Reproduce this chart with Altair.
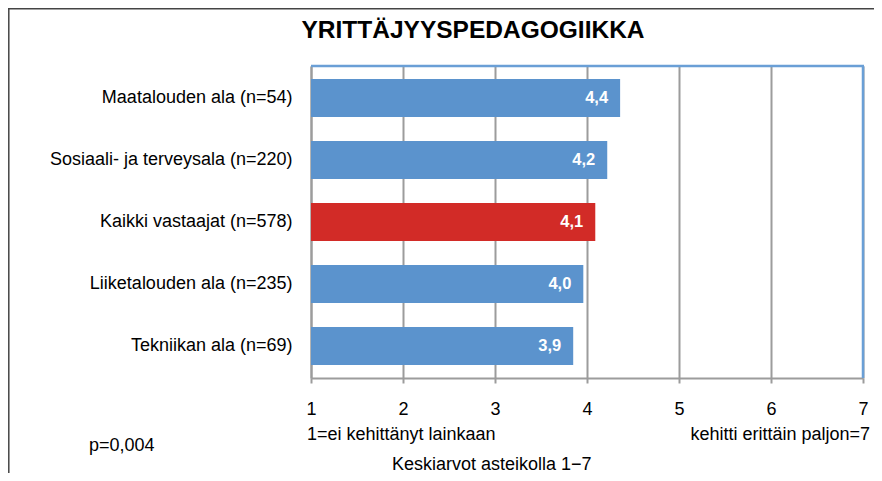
import altair as alt
import pandas as pd

categories = [
    "Maatalouden ala (n=54)",
    "Sosiaali- ja terveysala (n=220)",
    "Kaikki vastaajat (n=578)",
    "Liiketalouden ala (n=235)",
    "Tekniikan ala (n=69)",
]
values = [4.36, 4.22, 4.09, 3.96, 3.85]
value_labels = ["4,4", "4,2", "4,1", "4,0", "3,9"]
bar_colors = ["#5B93CD", "#5B93CD", "#D22B27", "#5B93CD", "#5B93CD"]
tick_values = [1, 2, 3, 4, 5, 6, 7]

title_text = "YRITTÄJYYSPEDAGOGIIKKA"
left_note = "1=ei kehittänyt lainkaan"
right_note = "kehitti erittäin paljon=7"
p_note = "p=0,004"
axis_title = "Keskiarvot asteikolla 1\u22127"

df = pd.DataFrame({"cat": categories, "val": values, "lab": value_labels, "color": bar_colors})

FONT = "Liberation Sans"
GRID = "#9C9C9C"
BORDER = "#6A9FD6"
W, H = 552, 312
FS = 18

y_enc = alt.Y(
    "cat:N",
    sort=categories,
    scale=alt.Scale(paddingInner=0.387, paddingOuter=0.21),
    axis=alt.Axis(
        title=None, labelFontSize=FS, labelFont=FONT, labelColor="#000000",
        labelPadding=19, ticks=False, domainColor=GRID, domainWidth=2,
        labelLimit=400, grid=False,
    ),
)
x_enc = alt.X(
    "val:Q",
    scale=alt.Scale(domain=[1, 7], nice=False, zero=False),
    axis=alt.Axis(
        values=tick_values, title=None, grid=True, gridColor=GRID, gridWidth=2,
        domainColor=GRID, domainWidth=2, tickColor=GRID, tickWidth=2, tickSize=5,
        labelFontSize=FS, labelFont=FONT, labelColor="#000000", labelPadding=17,
        labelFlush=False, format="d",
    ),
)

base = alt.Chart(df)
bars = base.mark_bar().encode(
    x=x_enc, x2=alt.datum(1), y=y_enc, color=alt.Color("color:N", scale=None)
)
bar_text = base.mark_text(
    align="right", baseline="middle", dx=-12, color="white", fontWeight="bold",
    fontSize=16.5, font=FONT,
).encode(x="val:Q", y=alt.Y("cat:N", sort=categories), text="lab:N")

one = alt.Data(values=[{}])

top_border = alt.Chart(one).mark_rule(color=BORDER, strokeWidth=2.5).encode(
    x=alt.value(0), x2=alt.value(W + 1), y=alt.value(0)
)
right_border = alt.Chart(one).mark_rule(color=BORDER, strokeWidth=2.5).encode(
    x=alt.value(W), y=alt.value(0), y2=alt.value(H)
)

frame_top = alt.Chart(one).mark_rule(color="#444444", strokeWidth=1.5).encode(
    x=alt.value(-303), x2=alt.value(580), y=alt.value(-57.2)
)
frame_left = alt.Chart(one).mark_rule(color="#444444", strokeWidth=1.5).encode(
    x=alt.value(-302.2), y=alt.value(-58), y2=alt.value(420)
)


def note(txt, x, y, align="left", size=FS, weight="normal"):
    return alt.Chart(one).mark_text(
        align=align, baseline="alphabetic", fontSize=size, font=FONT,
        fontWeight=weight, color="#000000",
    ).encode(x=alt.value(x), y=alt.value(y), text=alt.value(txt))


title = note(title_text, 162, -28, align="center", size=24.5, weight="bold")
n_left = note(left_note, -4, 374)
n_right = note(right_note, 559, 374, align="right")
n_p = note(p_note, -222, 385)
n_axis = note(axis_title, 81, 404)

chart = alt.layer(
    bars, bar_text, top_border, right_border, frame_top, frame_left,
    title, n_left, n_right, n_p, n_axis,
).properties(
    width=W, height=H,
    autosize=alt.AutoSizeParams(type="none"),
    padding={"left": 303, "top": 58, "right": 11, "bottom": 95},
    background="white",
).configure_view(stroke=None)

chart.save("out.html", embed_options={"renderer": "svg", "actions": False})
